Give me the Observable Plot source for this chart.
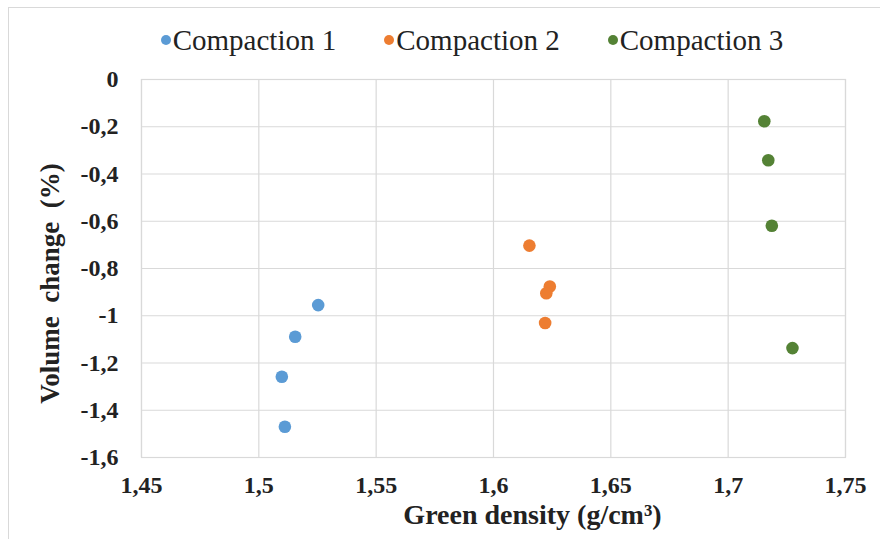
<!DOCTYPE html>
<html>
<head>
<meta charset="utf-8">
<script src="https://cdn.jsdelivr.net/npm/d3@7"></script>
<script src="https://cdn.jsdelivr.net/npm/@observablehq/plot@0.6"></script>
<style>
  html, body { margin: 0; padding: 0; background: #fff; }
  #wrap { position: relative; width: 880px; height: 539px; overflow: hidden; background: #fff; }
  #border { position: absolute; left: 8px; top: 7px; width: 880px; height: 540px; border-left: 1.5px solid #d9d9d9; border-top: 1.5px solid #d9d9d9; }
  #legend { position: absolute; left: 0; top: 20px; width: 880px; height: 40px; display: flex; justify-content: center; align-items: center; font-family: "Liberation Serif", "DejaVu Serif", serif; font-size: 29px; color: #222; padding-left: 64px; box-sizing: border-box; }
  .item { display: flex; align-items: center; margin: 0 24px; white-space: nowrap; }
  .dot { width: 10px; height: 10px; border-radius: 50%; margin-right: 2px; }
  #chart { position: absolute; left: 0; top: 60px; }
</style>
</head>
<body>
<div id="wrap">
  <div id="border"></div>
  <div id="legend"></div>
  <div id="chart"></div>
</div>
<script>
// Series names and colours
const seriesNames = ["Compaction 1", "Compaction 2", "Compaction 3"];
const seriesColors = ["#5B9BD5", "#ED7D31", "#548235"];

// Values
const c1Density = [1.5253, 1.5155, 1.5098, 1.5111];
const c1Volume = [-0.955, -1.089, -1.258, -1.470];
const c2Density = [1.6153, 1.6240, 1.6225, 1.6220];
const c2Volume = [-0.703, -0.876, -0.905, -1.031];
const c3Density = [1.7154, 1.7171, 1.7186, 1.7274];
const c3Volume = [-0.177, -0.342, -0.619, -1.137];

// Axis ticks
const xTicks = [1.45, 1.5, 1.55, 1.6, 1.65, 1.7, 1.75];
const yTicks = [0, -0.2, -0.4, -0.6, -0.8, -1, -1.2, -1.4, -1.6];

const xTitle = "Green density (g/cm\u00B3)";
const yTitle = "Volume\u00A0 change\u00A0 (%)";

const seriesX = [c1Density, c2Density, c3Density];
const seriesY = [c1Volume, c2Volume, c3Volume];
const data = [];
seriesNames.forEach((s, i) => {
  seriesX[i].forEach((x, j) => data.push({series: s, x, y: seriesY[i][j]}));
});

const fmt = d => String(+d.toFixed(2)).replace(".", ",");
const serif = "'Liberation Serif', 'DejaVu Serif', serif";

// Legend
const legend = document.getElementById("legend");
seriesNames.forEach((s, i) => {
  const it = document.createElement("div");
  it.className = "item";
  const dot = document.createElement("span");
  dot.className = "dot";
  dot.style.background = seriesColors[i];
  const t = document.createElement("span");
  t.textContent = s;
  it.appendChild(dot); it.appendChild(t);
  legend.appendChild(it);
});

const chart = Plot.plot({
  width: 880,
  height: 479,
  marginLeft: 141,
  marginRight: 35,
  marginTop: 19,
  marginBottom: 82,
  style: {fontFamily: serif, fontSize: "24px", color: "#222", background: "transparent", overflow: "visible"},
  x: {domain: [1.45, 1.75]},
  y: {domain: [-1.6, 0]},
  color: {domain: seriesNames, range: seriesColors},
  marks: [
    Plot.gridX(xTicks, {stroke: "#d9d9d9", strokeOpacity: 1, strokeWidth: 1.2}),
    Plot.gridY(yTicks, {stroke: "#d9d9d9", strokeOpacity: 1, strokeWidth: 1.2}),
    Plot.frame({stroke: "#d9d9d9", strokeWidth: 1.2}),
    Plot.axisX(xTicks, {tickSize: 0, tickPadding: 18, tickFormat: fmt, fontWeight: "bold", label: null, fontSize: 24, fontFamily: serif}),
    Plot.axisY(yTicks, {tickSize: 0, tickPadding: 23, tickFormat: fmt, fontWeight: "bold", label: null, fontSize: 24, fontFamily: serif}),
    Plot.dot(data, {x: "x", y: "y", fill: "series", r: 6.3}),
    Plot.text([xTitle], {frameAnchor: "bottom", lineAnchor: "middle", textAnchor: "middle", dx: 39, dy: 58, fontWeight: "bold", fontSize: 28, fill: "#222", fontFamily: serif}),
    Plot.text([yTitle], {frameAnchor: "left", lineAnchor: "middle", textAnchor: "middle", rotate: -90, dx: -91, dy: 15, fontWeight: "bold", fontSize: 27, fill: "#222", fontFamily: serif})
  ]
});
document.getElementById("chart").appendChild(chart);
</script>
</body>
</html>
